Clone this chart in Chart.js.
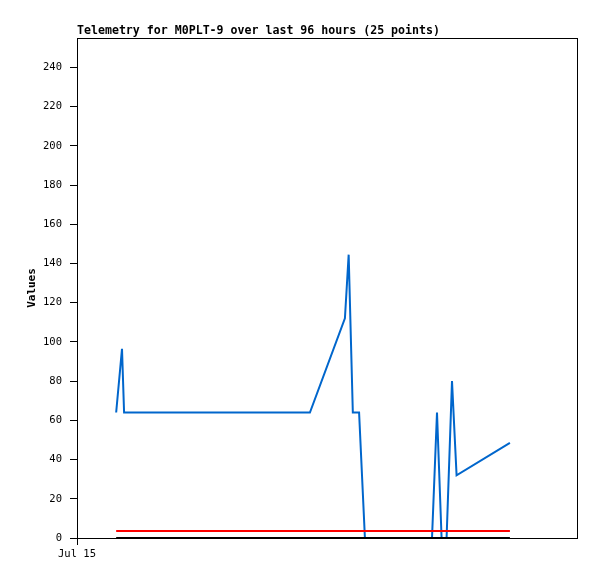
<!DOCTYPE html>
<html>
<head>
<meta charset="utf-8">
<script src="https://cdn.jsdelivr.net/npm/chart.js@4.4.1/dist/chart.umd.min.js"></script>
<style>
  html, body { margin: 0; padding: 0; background: #fff; }
  #wrap { width: 597px; height: 579px; position: relative; }
</style>
</head>
<body>
<div id="wrap"><canvas id="telemetryChart" width="597" height="579"></canvas></div>
<script>
// hours since Jul 15 00:00 (axis runs 0..120 h)
const blueHours  = [9.4, 10.8, 11.3, 55.9, 64.3, 65.2, 66.2, 67.7, 69.1, 85.2, 86.4, 87.5, 88.7, 90.0, 91.1, 103.9];
const blueValues = [64, 96.5, 64, 64, 112, 144.5, 64, 64, 0, 0, 64, 0, 0, 80, 32, 48.5];

const redHours   = [9.4, 103.9];
const redValues  = [3.6, 3.6];

const blackHours  = [9.4, 103.9];
const blackValues = [0, 0];

const xLabels = { 0: 'Jul 15' };
const yTickValues = [0, 20, 40, 60, 80, 100, 120, 140, 160, 180, 200, 220, 240];

const chartTitle = 'Telemetry for M0PLT-9 over last 96 hours (25 points)';

function toPoints(xs, ys) {
  return xs.map((x, i) => ({ x: x, y: ys[i] }));
}

const mono = '"DejaVu Sans Mono", "Liberation Mono", monospace';

// box round the plot area + title at its left edge
const frame = {
  id: 'frame',
  afterDraw(chart) {
    const { ctx, chartArea: a } = chart;
    ctx.save();
    ctx.strokeStyle = '#000';
    ctx.lineWidth = 1;
    ctx.strokeRect(a.left + 0.5, a.top + 0.5, a.right - a.left, a.bottom - a.top);
    ctx.fillStyle = '#000';
    ctx.font = 'bold 11.6px ' + mono;
    ctx.textBaseline = 'alphabetic';
    ctx.textAlign = 'left';
    ctx.fillText(chartTitle, a.left, a.top - 4);
    ctx.restore();
  }
};

const lineDefaults = { fill: false, tension: 0, pointRadius: 0, pointHoverRadius: 0 };

new Chart(document.getElementById('telemetryChart'), {
  type: 'line',
  data: {
    datasets: [
      Object.assign({ label: 'ref0', data: toPoints(blackHours, blackValues), borderColor: '#000000', borderWidth: 2 }, lineDefaults),
      Object.assign({ label: 'ref1', data: toPoints(redHours, redValues), borderColor: '#ff0000', borderWidth: 2 }, lineDefaults),
      Object.assign({ label: 'value', data: toPoints(blueHours, blueValues), borderColor: '#0066cc', borderWidth: 2 }, lineDefaults)
    ]
  },
  options: {
    responsive: false,
    animation: false,
    layout: { padding: { left: 20, right: 20, top: 38, bottom: 0 } },
    plugins: {
      legend: { display: false },
      title: { display: false },
      tooltip: { enabled: false }
    },
    scales: {
      x: {
        type: 'linear',
        min: 0,
        max: 120,
        border: { display: false },
        grid: { drawOnChartArea: false, drawTicks: true, tickLength: 7, color: '#000' },
        afterBuildTicks: (scale) => { scale.ticks = Object.keys(xLabels).map(v => ({ value: Number(v) })); },
        afterFit: (scale) => { scale.height = 41; },
        ticks: {
          color: '#000',
          padding: 3,
          maxRotation: 0,
          font: { family: mono, size: 10.5 },
          callback: (v) => xLabels[v] || ''
        }
      },
      y: {
        min: 0,
        max: 255,
        border: { display: false },
        grid: { drawOnChartArea: false, drawTicks: true, tickLength: 7, color: '#000' },
        afterBuildTicks: (scale) => { scale.ticks = yTickValues.map(v => ({ value: v })); },
        afterFit: (scale) => { scale.width = 57; },
        title: {
          display: true,
          text: 'Values',
          color: '#000',
          font: { family: mono, size: 11, weight: 'bold' },
          padding: { top: 6, bottom: 0 }
        },
        ticks: {
          color: '#000',
          padding: 8,
          font: { family: mono, size: 10.5 }
        }
      }
    }
  },
  plugins: [frame]
});
</script>
</body>
</html>
